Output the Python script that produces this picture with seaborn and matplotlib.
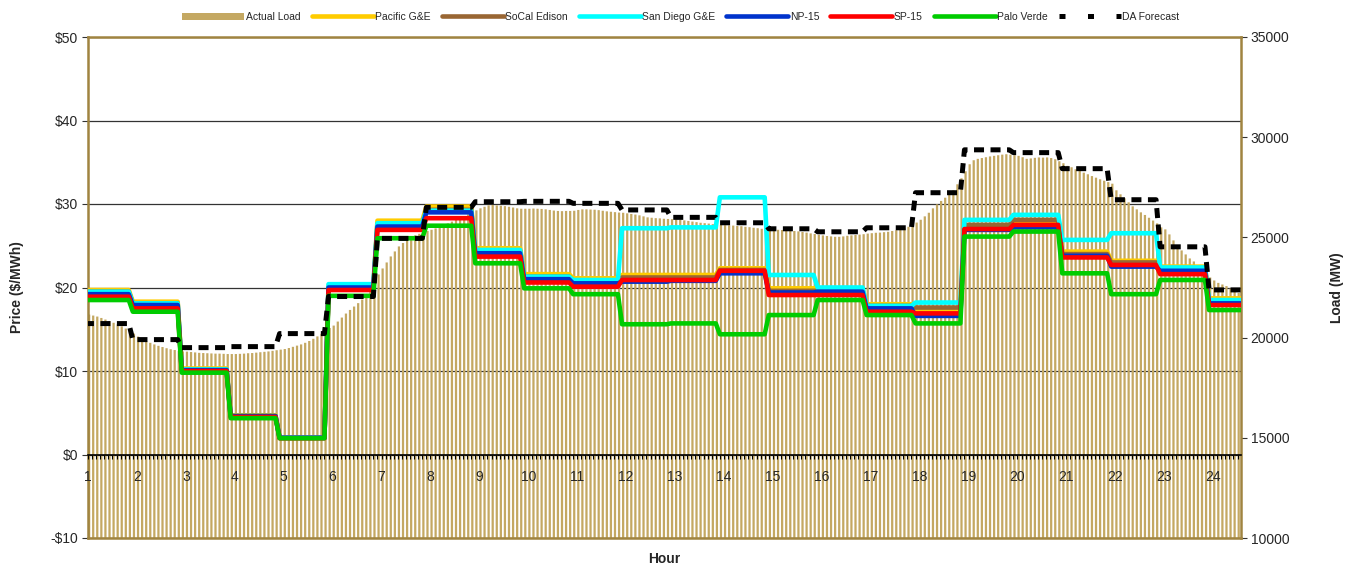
import numpy as np
import pandas as pd
import matplotlib
matplotlib.use("Agg")
import matplotlib.pyplot as plt
from matplotlib.lines import Line2D
from matplotlib.patches import Patch
from matplotlib.ticker import FuncFormatter
import seaborn as sns

# hourly prices ($/MWh), hour 1..24
hours = list(range(1, 25))
pacific_ge = [19.7, 18.3, 10.3, 4.7, 2.0, 20.2, 28.0, 29.7, 24.7, 21.6, 21.1, 21.5,
              21.5, 22.3, 19.9, 19.9, 18.0, 17.3, 27.3, 27.8, 24.3, 23.2, 22.5, 18.7]
socal_edison = [19.5, 18.1, 10.2, 4.6, 2.0, 20.0, 27.6, 29.3, 24.4, 21.3, 20.8, 21.2,
                21.2, 22.1, 19.6, 19.6, 17.8, 17.6, 27.5, 28.1, 24.0, 23.0, 22.3, 18.4]
san_diego_ge = [19.5, 18.1, 10.2, 4.6, 2.0, 20.4, 27.7, 29.2, 24.5, 21.3, 20.9, 27.1,
                27.2, 30.8, 21.5, 20.0, 17.8, 18.2, 28.1, 28.7, 25.7, 26.5, 22.4, 18.5]
np15 = [19.2, 17.9, 10.1, 4.6, 2.0, 20.0, 27.3, 29.0, 24.1, 21.0, 20.5, 20.7,
        20.8, 21.7, 19.4, 19.5, 17.5, 16.6, 26.9, 27.2, 23.8, 22.5, 22.0, 18.1]
sp15 = [18.9, 17.5, 10.0, 4.5, 1.95, 19.7, 26.9, 28.3, 23.7, 20.6, 20.1, 20.9,
        20.9, 22.0, 19.1, 19.1, 17.1, 16.9, 27.0, 27.5, 23.6, 22.7, 21.6, 17.9]
palo_verde = [18.5, 17.1, 9.8, 4.35, 1.95, 19.0, 25.9, 27.4, 22.9, 19.9, 19.2, 15.6,
              15.7, 14.4, 16.7, 18.5, 16.7, 15.7, 26.1, 26.7, 21.7, 19.2, 20.9, 17.3]

# day-ahead load forecast (MW), hourly
da_forecast = [20700, 19900, 19500, 19550, 20200, 22050, 24950, 26500, 26780, 26800, 26700, 26370,
               26000, 25730, 25430, 25280, 25480, 27230, 29370, 29230, 28430, 26880, 24530, 22380]

# actual load (MW), 5-minute intervals, one row per hour
actual_load = [
    [21150, 21100, 21050, 20980, 20900, 20820, 20740, 20660, 20560, 20450, 20330, 20200],
    [20050, 19920, 19820, 19740, 19660, 19590, 19530, 19470, 19420, 19380, 19340, 19310],
    [19300, 19280, 19260, 19240, 19230, 19220, 19210, 19200, 19200, 19190, 19180, 19180],
    [19180, 19190, 19200, 19220, 19230, 19250, 19270, 19290, 19310, 19340, 19370, 19400],
    [19430, 19480, 19540, 19600, 19660, 19740, 19830, 19940, 20060, 20190, 20330, 20480],
    [20600, 20800, 21000, 21200, 21380, 21550, 21720, 21900, 22150, 22450, 22800, 23150],
    [23450, 23750, 24050, 24300, 24550, 24720, 24880, 25000, 25100, 25180, 25250, 25320],
    [25380, 25450, 25530, 25620, 25700, 25790, 25880, 25970, 26060, 26150, 26250, 26350],
    [26450, 26530, 26600, 26620, 26600, 26580, 26560, 26530, 26490, 26450, 26430, 26430],
    [26430, 26440, 26430, 26420, 26400, 26370, 26340, 26320, 26310, 26320, 26320, 26330],
    [26370, 26400, 26400, 26390, 26380, 26360, 26330, 26300, 26280, 26260, 26240, 26230],
    [26200, 26170, 26140, 26100, 26050, 26000, 25980, 25960, 25950, 25930, 25920, 25910],
    [25900, 25880, 25850, 25820, 25790, 25760, 25730, 25710, 25690, 25660, 25640, 25620],
    [25610, 25600, 25590, 25570, 25560, 25530, 25510, 25480, 25460, 25430, 25410, 25400],
    [25390, 25380, 25370, 25360, 25340, 25320, 25300, 25270, 25240, 25200, 25170, 25130],
    [25100, 25070, 25050, 25030, 25030, 25050, 25080, 25100, 25120, 25140, 25160, 25190],
    [25210, 25230, 25240, 25260, 25280, 25320, 25360, 25400, 25460, 25530, 25620, 25740],
    [25880, 26050, 26230, 26450, 26650, 26820, 26980, 27150, 27350, 27650, 27950, 28300],
    [28650, 28850, 28920, 28960, 29000, 29040, 29070, 29100, 29130, 29150, 29130, 29100],
    [29070, 29000, 28920, 28940, 28970, 28990, 28980, 28990, 28960, 28900, 28800, 28700],
    [28570, 28500, 28400, 28320, 28230, 28150, 28060, 27980, 27900, 27830, 27760, 27680],
    [27350, 27150, 26950, 26750, 26550, 26400, 26250, 26120, 25980, 25840, 25700, 25500],
    [25400, 25150, 24850, 24600, 24350, 24150, 23950, 23800, 23600, 23400, 23200, 23000],
    [22850, 22730, 22650, 22570, 22450, 22330, 22230],
]

series = {
    "Pacific G&E": (pacific_ge, "#FFCC00"),
    "SoCal Edison": (socal_edison, "#996633"),
    "San Diego G&E": (san_diego_ge, "#00FFFF"),
    "NP-15": (np15, "#0033CC"),
    "SP-15": (sp15, "#FF0000"),
    "Palo Verde": (palo_verde, "#00CC00"),
}
load_color = "#C4A862"
frame_color = "#A08440"

# hourly values held across the hour, stepping over one 5-min interval
def step_frame(vals):
    xs, ys = [], []
    for h, v in zip(hours, vals):
        xs += [h - 1 / 12, h + 10 / 12]
        ys += [v, v]
    return xs, ys

rows = []
for name, (vals, _) in series.items():
    xs, ys = step_frame(vals)
    rows += [{"x": a, "price": b, "series": name} for a, b in zip(xs, ys)]
df_price = pd.DataFrame(rows)

load_flat = [v for hr in actual_load for v in hr]
df_load = pd.DataFrame({"x": 1 + np.arange(len(load_flat)) / 12, "load": load_flat})

da_x, da_y = step_frame(da_forecast)
df_da = pd.DataFrame({"x": da_x, "load": da_y})

sns.set_theme(style="white")
plt.rcParams['font.family'] = ['Liberation Sans', 'DejaVu Sans']

fig = plt.figure(figsize=(13.46, 5.65), dpi=100)
ax = fig.add_axes([88 / 1346, 27 / 565, 1153 / 1346, 501 / 565])
ax_load = ax.twinx()
ax_top = ax.twinx()
ax_da = ax.twinx()

xlim = (1, 24.57)
ax.set_xlim(*xlim)
ax.set_ylim(-10, 50)
ax.set_yticks(range(-10, 51, 10))
ax.yaxis.set_major_formatter(FuncFormatter(lambda v, p: f"-${-v:.0f}" if v < 0 else f"${v:.0f}"))
ax.grid(axis='y', color='#333333', lw=0.9)
ax.grid(axis='x', visible=False)
ax.tick_params(axis='y', which='major', left=True, direction='out', length=4, width=0.8,
               color='#333333', labelsize=10, pad=3)
ax.tick_params(axis='x', which='both', bottom=False, labelbottom=False)
for s in ax.spines.values():
    s.set_visible(False)
ax.set_ylabel("Price ($/MWh)", fontsize=10, fontweight='bold')
ax.yaxis.set_label_coords(-0.0555, 0.5)

# load bars
ax_load.bar(df_load["x"], df_load["load"], width=0.55 / 12, align='edge',
            color=load_color, linewidth=0, snap=False)
ax_load.set_ylim(10000, 35000)
ax_load.set_yticks(range(10000, 35001, 5000))
ax_load.tick_params(axis='y', right=True, direction='out', length=4, width=0.8,
                    color='#333333', labelsize=10, pad=3)
ax_load.grid(False)
for s in ax_load.spines.values():
    s.set_visible(True)
    s.set_color(frame_color)
    s.set_linewidth(1.8)
ax_load.set_ylabel("Load (MW)", fontsize=10, fontweight='bold')
ax_load.yaxis.set_label_coords(1.077, 0.5)

# price lines
sns.lineplot(data=df_price, x="x", y="price", hue="series",
             hue_order=list(series.keys()),
             palette={k: c for k, (_, c) in series.items()},
             estimator=None, sort=False, lw=3.3, legend=False, ax=ax_top)
ax_top.set_ylim(-10, 50)
ax_top.set_xlim(*xlim)
ax_top.yaxis.set_visible(False)
ax_top.xaxis.set_visible(True)
ax_top.grid(False)
for k, s in ax_top.spines.items():
    s.set_visible(k == 'bottom')
ax_top.spines['bottom'].set_position(('data', 0))
ax_top.spines['bottom'].set_color('black')
ax_top.spines['bottom'].set_linewidth(1.2)
ax_top.set_xticks(hours)
ax_top.set_xticks(np.arange(1, 24.6, 1 / 12), minor=True)
ax_top.tick_params(axis='x', which='both', bottom=True, direction='out', length=3,
                   width=0.8, color='black', labelsize=10, pad=8)
ax_top.set_xlabel("Hour", fontsize=10, fontweight='bold')
ax_top.xaxis.set_label_coords(0.5, -0.028)
ax_top.set_ylabel("")

# day-ahead forecast
sns.lineplot(data=df_da, x="x", y="load", color='black', lw=3.6,
             linestyle=(0, (2.0, 1.3)), estimator=None, sort=False, ax=ax_da)
ax_da.set_ylim(10000, 35000)
ax_da.set_xlim(*xlim)
ax_da.axis('off')

handles = [Patch(facecolor=load_color, edgecolor='none', label="Actual Load")]
for name, (_, c) in series.items():
    handles.append(Line2D([], [], color=c, lw=3.3, label=name))
handles.append(Line2D([], [], color='black', lw=3.6, linestyle=(0, (1.2, 4.5)), label="DA Forecast"))
fig.legend(handles=handles, loc='center', bbox_to_anchor=(681 / 1346, 1 - 17 / 565), ncol=8,
           frameon=False, fontsize=7.5, handlelength=5.95, handletextpad=0.15, columnspacing=1.05)

fig.savefig("out.png", dpi=100)
